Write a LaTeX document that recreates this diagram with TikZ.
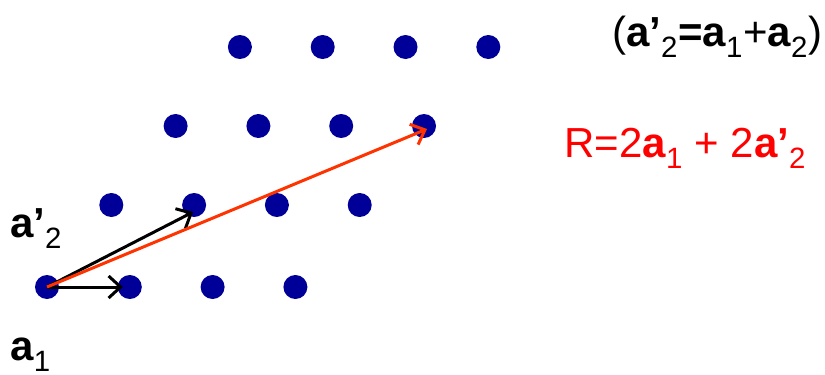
\documentclass[tikz,border=0pt]{standalone}
\usepackage{fontspec}
\setmainfont{Liberation Sans}
\usetikzlibrary{arrows.meta}
\definecolor{siteblue}{RGB}{0,0,153}
\definecolor{vecred}{RGB}{255,51,0}

\begin{document}
\begin{tikzpicture}[x=1pt, y=-1pt,
    site/.style={circle, fill=siteblue, inner sep=0pt, minimum size=24pt},
    vec/.style={-{Straight Barb[length=12pt, width=22pt]}, line width=3pt},
    lbl/.style={anchor=base west, inner sep=0pt, font=\fontsize{42}{46}\selectfont}
  ]
  \useasboundingbox (0,0) rectangle (825,375);

  % lattice sites
  \foreach \r/\y in {0/287,1/205,2/126,3/47}
    \foreach \c in {0,...,3}
      \node[site] (s\r\c) at (47+64.3*\r+82.8*\c, \y) {};

  % basis vectors and R
  \draw[vec] (s00.center) -- ([xshift=-7pt]s01.center);
  \draw[vec] (s00.center) -- ([shift={(-1,7)}]s11.center);
  \draw[vec, vecred] (s00.center) -- ([shift={(3,3)}]s23.center);

  % labels
  \node[lbl] (lap) at (10,237) {\textbf{a’}\textsubscript{2}};
  \node[lbl] (la1) at (10,360) {\textbf{a}\textsubscript{1}};
  \node[lbl] (ldef) at (612,46) {(\textbf{a’}\textsubscript{2}\textbf{=a}\textsubscript{1}+\textbf{a}\textsubscript{2})};
  \node[lbl, text=red] (lR) at (564,157) {R=2\textbf{a}\textsubscript{1} + 2\textbf{a’}\textsubscript{2}};
\end{tikzpicture}
\end{document}
